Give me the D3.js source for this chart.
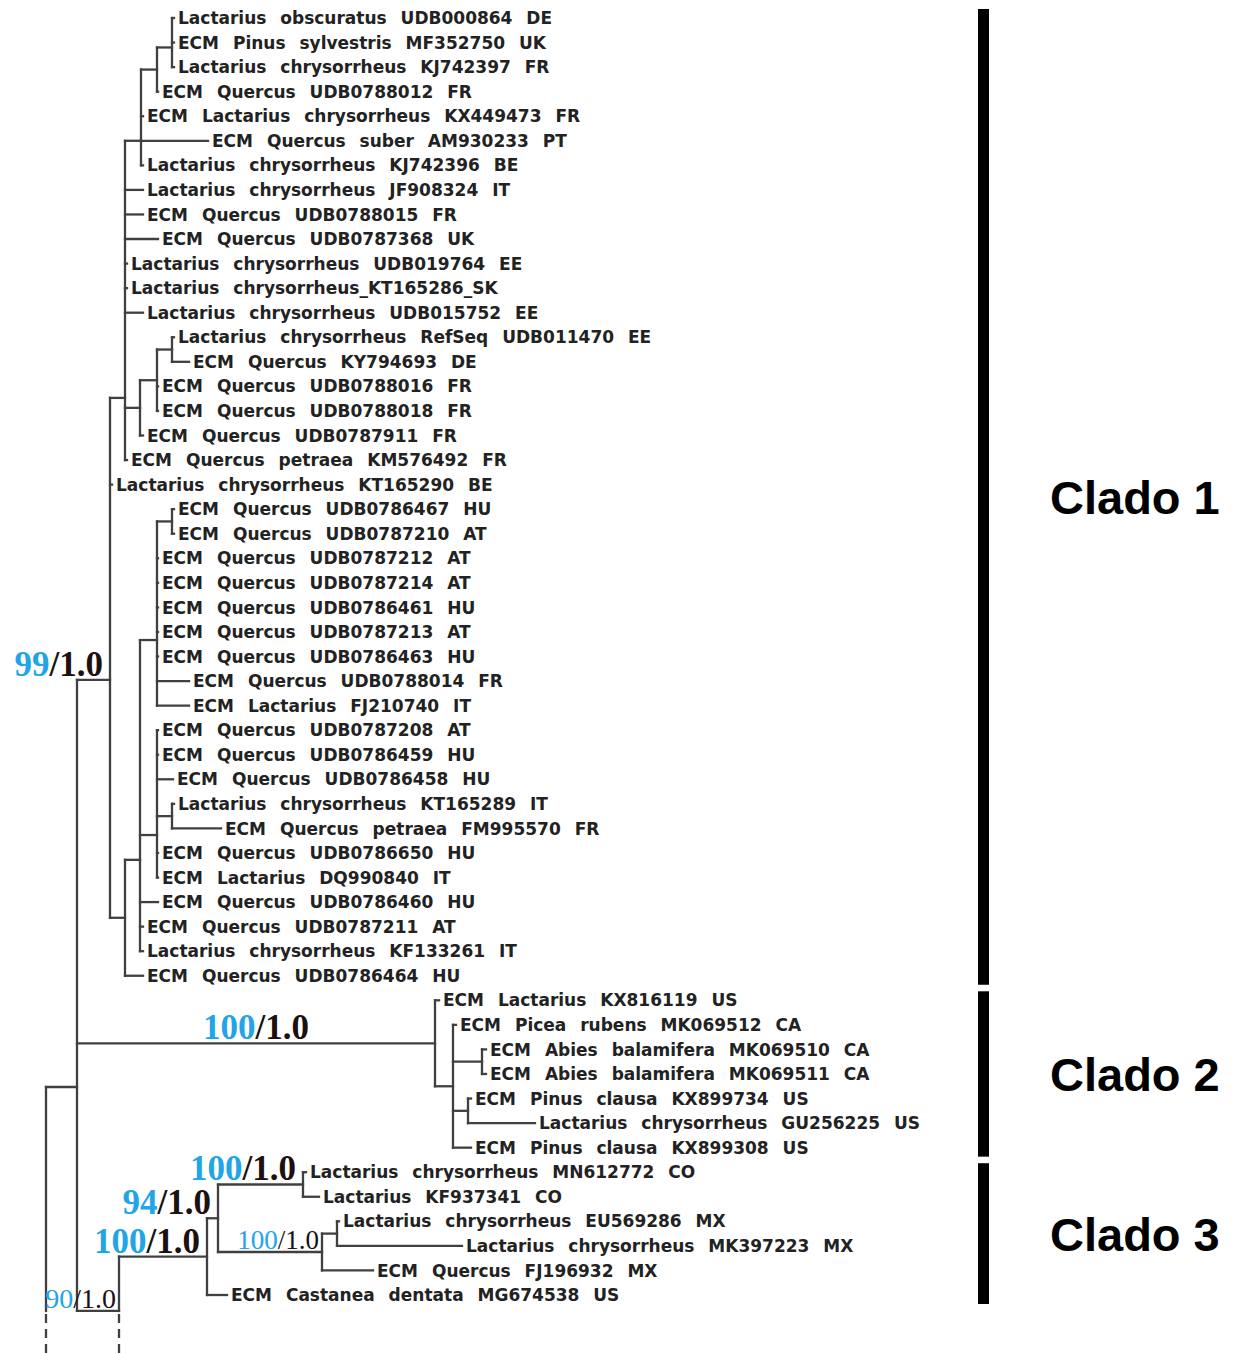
<!DOCTYPE html>
<html><head><meta charset="utf-8">
<script src="https://cdn.jsdelivr.net/npm/d3@7"></script>
<style>body{margin:0;background:#fff}svg{display:block}</style>
</head><body>
<svg id="chart" width="1238" height="1353"></svg>
<script>
// ---------- DATA ----------
const leafLabels = [
 "Lactarius obscuratus UDB000864 DE","ECM Pinus sylvestris MF352750 UK","Lactarius chrysorrheus KJ742397 FR",
 "ECM Quercus UDB0788012 FR","ECM Lactarius chrysorrheus KX449473 FR","ECM Quercus suber AM930233 PT",
 "Lactarius chrysorrheus KJ742396 BE","Lactarius chrysorrheus JF908324 IT","ECM Quercus UDB0788015 FR",
 "ECM Quercus UDB0787368 UK","Lactarius chrysorrheus UDB019764 EE","Lactarius chrysorrheus_KT165286_SK",
 "Lactarius chrysorrheus UDB015752 EE","Lactarius chrysorrheus RefSeq UDB011470 EE","ECM Quercus KY794693 DE",
 "ECM Quercus UDB0788016 FR","ECM Quercus UDB0788018 FR","ECM Quercus UDB0787911 FR",
 "ECM Quercus petraea KM576492 FR","Lactarius chrysorrheus KT165290 BE","ECM Quercus UDB0786467 HU",
 "ECM Quercus UDB0787210 AT","ECM Quercus UDB0787212 AT","ECM Quercus UDB0787214 AT",
 "ECM Quercus UDB0786461 HU","ECM Quercus UDB0787213 AT","ECM Quercus UDB0786463 HU",
 "ECM Quercus UDB0788014 FR","ECM Lactarius FJ210740 IT","ECM Quercus UDB0787208 AT",
 "ECM Quercus UDB0786459 HU","ECM Quercus UDB0786458 HU","Lactarius chrysorrheus KT165289 IT",
 "ECM Quercus petraea FM995570 FR","ECM Quercus UDB0786650 HU","ECM Lactarius DQ990840 IT",
 "ECM Quercus UDB0786460 HU","ECM Quercus UDB0787211 AT","Lactarius chrysorrheus KF133261 IT",
 "ECM Quercus UDB0786464 HU","ECM Lactarius KX816119 US","ECM Picea rubens MK069512 CA",
 "ECM Abies balamifera MK069510 CA","ECM Abies balamifera MK069511 CA","ECM Pinus clausa KX899734 US",
 "Lactarius chrysorrheus GU256225 US","ECM Pinus clausa KX899308 US","Lactarius chrysorrheus MN612772 CO",
 "Lactarius KF937341 CO","Lactarius chrysorrheus EU569286 MX","Lactarius chrysorrheus MK397223 MX",
 "ECM Quercus FJ196932 MX","ECM Castanea dentata MG674538 US"
];
// cumulative depth (tree units) at the tip of each leaf branch
const leafDepths = [
 32,32,32,28,24.25,40.5,24.25,24.25,24.25,28,20.25,20.25,24.25,32,35.75,28,28,24.25,20.25,16.5,
 32,32,28,28,28,28,28,35.75,35.75,28,28,31.75,32,43.75,28,28,28,24.25,24.25,24.25,
 98.25,102.5,110,110,106.25,122.25,106.25,65,68.25,73.25,104,81.75,45.25
];
// internal nodes: depth, children (leaf index or node id), optional attach row, open = truncated below
const cutRow = 52.65;
const internalNodes = [
 {id:"R",    depth:0,     kids:["A"], open:true},
 {id:"A",    depth:7.75,  kids:["C1","C2","B"], at:43.53},
 {id:"C1",   depth:16,    kids:["N125",19,"N125b"], at:26.95},
 {id:"N125", depth:19.75, kids:["N141",7,8,9,10,11,12,"N140",18], at:15.47},
 {id:"N141", depth:23.75, kids:["N157",4,5,6], at:5},
 {id:"N157", depth:27.75, kids:["N172",3]},
 {id:"N172", depth:31.5,  kids:[0,1,2], at:1.2},
 {id:"N140", depth:23.5,  kids:["N157b",17]},
 {id:"N157b",depth:27.75, kids:["N172a",15,16]},
 {id:"N172a",depth:31.5,  kids:[13,14]},
 {id:"N125b",depth:19.75, kids:["N140b",39]},
 {id:"N140b",depth:23.5,  kids:["N157c","N157d",36,37,38], at:34.28},
 {id:"N157c",depth:27.75, kids:["N172b",22,23,24,25,26,27,28], at:25.33},
 {id:"N172b",depth:31.5,  kids:[20,21]},
 {id:"N157d",depth:27.75, kids:[29,30,31,"N172c",34,35], at:33.27},
 {id:"N172c",depth:31.5,  kids:[32,33]},
 {id:"C2",   depth:97.25, kids:[40,"N453"]},
 {id:"N453", depth:101.75,kids:[41,"N482","N468",46]},
 {id:"N482", depth:109,   kids:[42,43]},
 {id:"N468", depth:105.5, kids:[44,45]},
 {id:"B",    depth:18.25, kids:["C3"], at:cutRow, open:true},
 {id:"C3",   depth:40.25, kids:["N218",52]},
 {id:"N218", depth:43,    kids:["N303","N322"]},
 {id:"N303", depth:64.25, kids:[47,48]},
 {id:"N322", depth:69,    kids:["N337",51]},
 {id:"N337", depth:72.75, kids:[49,50]}
];
const supportLabels = [
 {node:"C1",   boot:"99",  post:"1.0", size:35, place:"end"},
 {node:"C2",   boot:"100", post:"1.0", size:35, place:"mid"},
 {node:"N303", boot:"100", post:"1.0", size:35, place:"end"},
 {node:"N218", boot:"94",  post:"1.0", size:35, place:"end"},
 {node:"C3",   boot:"100", post:"1.0", size:35, place:"end"},
 {node:"N322", boot:"100", post:"1.0", size:27, place:"end"},
 {node:"B",    boot:"90",  post:"1.0", size:28, place:"end"}
];
const clades = [
 {name:"Clado 1", first:0,  last:39},
 {name:"Clado 2", first:40, last:46},
 {name:"Clado 3", first:47, last:52}
];

// ---------- BUILD TREE ----------
const byId = {};
internalNodes.forEach(n => byId[n.id] = {id:n.id, depth:n.depth, at:n.at, open:n.open, kidsRef:n.kids});
function build(ref){
  if (typeof ref === "number") return {leaf:ref, depth:leafDepths[ref], label:leafLabels[ref]};
  const n = byId[ref];
  n.children = n.kidsRef.map(build);
  return n;
}
const root = d3.hierarchy(build("R"), d => d.children);
root.eachAfter(nd => {
  if (nd.data.leaf !== undefined) nd.row = nd.data.leaf;
  else if (nd.data.at !== undefined) nd.row = nd.data.at;
  else nd.row = (nd.children[0].row + nd.children[nd.children.length-1].row)/2;
});

// ---------- SCALES ----------
const W = 1238, H = 1353;
const x = d3.scaleLinear().domain([0,100]).range([46,446]);
const y = d3.scaleLinear().domain([0,52]).range([18,1295]);
const cutY = y(cutRow);

const svg = d3.select("#chart");
const lineColor = "#404040";
const gLines = svg.append("g").attr("stroke", lineColor).attr("stroke-width", 2.3).attr("fill","none").attr("stroke-linecap","square");

// horizontal branches
gLines.selectAll("line.h").data(root.descendants().filter(d => d.parent))
  .join("line").attr("class","h")
  .attr("x1", d => x(d.parent.data.depth)).attr("x2", d => x(d.data.depth))
  .attr("y1", d => y(d.row)).attr("y2", d => y(d.row));

// vertical connectors
const internals = root.descendants().filter(d => d.children);
internals.forEach(d => {
  const rows = d.children.map(c => c.row);
  const top = y(d3.min(rows));
  const bot = y(d3.max(rows));
  const xx = x(d.data.depth);
  if (d.data.open) {
    gLines.append("line").attr("x1", xx).attr("x2", xx).attr("y1", top).attr("y2", cutY);
    gLines.append("line").attr("x1", xx).attr("x2", xx)
      .attr("y1", cutY + 3).attr("y2", H).attr("stroke-dasharray","9,6").attr("stroke-linecap","butt");
  } else {
    gLines.append("line").attr("x1", xx).attr("x2", xx).attr("y1", top).attr("y2", bot);
  }
});

// leaf labels
svg.append("g").selectAll("text").data(root.leaves())
  .join("text")
  .attr("x", d => x(d.data.depth) + 4)
  .attr("y", d => y(d.row))
  .attr("dy", "0.36em")
  .attr("font-family", "DejaVu Sans, Verdana, sans-serif")
  .attr("font-weight", "bold")
  .attr("font-size", 17)
  .attr("word-spacing", "8px")
  .attr("fill", "#222")
  .text(d => d.data.label);

// support labels
const nodeById = {};
internals.forEach(d => nodeById[d.data.id] = d);
const gSup = svg.append("g").attr("font-family","Liberation Serif, Times New Roman, serif");
supportLabels.forEach(s => {
  const nd = nodeById[s.node];
  const small = s.size < 30;
  const t = gSup.append("text").attr("font-size", s.size)
    .attr("font-weight", small ? "normal" : "bold")
    .attr("y", y(nd.row) - (small ? 3 : 4));
  if (s.place === "mid") {
    t.attr("x", (x(nd.parent.data.depth) + x(nd.data.depth))/2).attr("text-anchor","middle");
  } else {
    t.attr("x", x(nd.data.depth) - (small ? 3 : 7)).attr("text-anchor","end");
  }
  t.append("tspan").attr("fill","#22a5e6").text(s.boot);
  t.append("tspan").attr("fill","#1c1010").text("/" + s.post);
});

// clade bars and names
const gClade = svg.append("g");
clades.forEach(c => {
  const y0 = y(c.first) - 9, y1 = y(c.last) + 9;
  gClade.append("rect").attr("x", 978).attr("width", 11).attr("y", y0).attr("height", y1 - y0).attr("fill", "#000");
  gClade.append("text").attr("x", 1050).attr("y", (y0 + y1)/2).attr("dy","0.36em")
    .attr("font-family","Liberation Sans, Arial, sans-serif").attr("font-weight","bold")
    .attr("font-size", 47).attr("fill","#000").text(c.name);
});
</script>
</body></html>
